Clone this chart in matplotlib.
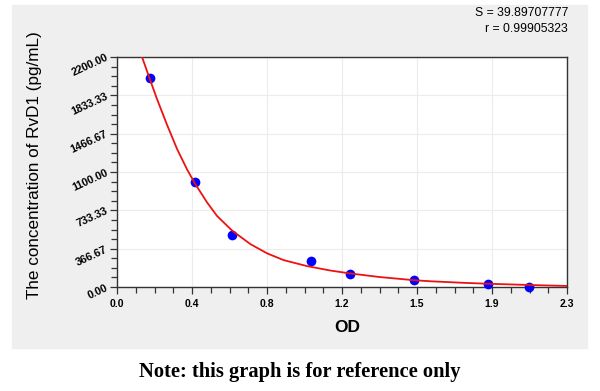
import matplotlib
matplotlib.use('Agg')
import matplotlib.pyplot as plt
from matplotlib.patches import Rectangle
from matplotlib.ticker import AutoMinorLocator
import numpy as np

# standard points (OD, concentration)
od = [0.167, 0.400, 0.588, 0.992, 1.19, 1.518, 1.897, 2.106]
conc = [2000, 1000, 500, 250, 125, 62.5, 31.25, 0]

# fitted curve
curve_od = [0.128, 0.167, 0.204, 0.256, 0.307, 0.358, 0.400, 0.460, 0.511, 0.588,
            0.682, 0.767, 0.852, 0.971, 1.089, 1.19, 1.344, 1.518, 1.6, 1.77,
            1.897, 2.11, 2.3]
curve_conc = [2200, 1993, 1800, 1550, 1320, 1125, 985, 810, 680, 540,
              410, 322, 257, 200, 158, 130, 95, 65, 55, 40,
              31, 19, 10]

xticks = [0, 2.3/6, 2*2.3/6, 3*2.3/6, 4*2.3/6, 5*2.3/6, 2.3]
xticklabels = ['0.0', '0.4', '0.8', '1.2', '1.5', '1.9', '2.3']
yticks = [0, 2200/6, 2*2200/6, 3*2200/6, 4*2200/6, 5*2200/6, 2200]
yticklabels = ['0.00', '366.67', '733.33', '1100.00', '1466.67', '1833.33', '2200.00']

W, H = 600, 391
fig = plt.figure(figsize=(6, 3.91), dpi=100)
fig.patches.append(Rectangle((12/W, 1-348/H), (587-12)/W, (348-5)/H,
                             transform=fig.transFigure, color='#efefef', zorder=-5))

ax = fig.add_axes([117/W, 1-287/H, 450/W, 230/H])
ax.set_zorder(2)
ax.set_facecolor('white')
ax.plot(curve_od, curve_conc, color='#ee1111', lw=1.3, zorder=4)
ax.plot(od, conc, 'o', color='#0000ff', ms=7, mec='none', zorder=3, clip_on=False)

ax.set_xlim(0, 2.3)
ax.set_ylim(0, 2200)
ax.set_xticks(xticks)
ax.set_xticklabels(xticklabels, fontsize=7.5, fontweight='bold', family='Liberation Sans')
ax.set_yticks(yticks)
ax.set_yticklabels(yticklabels, fontsize=7.8, fontweight='bold', family='Liberation Sans',
                   rotation=25, rotation_mode='anchor', ha='right', va='center')
ax.xaxis.set_minor_locator(AutoMinorLocator(4))
ax.yaxis.set_minor_locator(AutoMinorLocator(4))
ax.tick_params(which='major', length=5, width=0.9, color='#333333')
ax.tick_params(axis='y', which='major', pad=2)
ax.tick_params(which='minor', length=4, width=0.9, color='#333333')
ax.grid(True, which='major', color='#ececec', lw=0.8)
for s in ax.spines.values():
    s.set_color('#333333')
    s.set_linewidth(1.0)

fig.text(35/W, 1-165/H, 'The concentration of RvD1 (pg/mL)', rotation=90,
         ha='center', va='center', fontsize=12.3, family='Liberation Sans')
fig.text(347/W, 1-328/H, 'OD', ha='center', va='center', fontsize=12.5,
         fontweight='bold', family='Liberation Sans')
fig.text(568/W, 1-13/H, 'S = 39.89707777', ha='right', va='center', fontsize=8.8,
         family='Liberation Sans')
fig.text(568/W, 1-29/H, 'r = 0.99905323', ha='right', va='center', fontsize=8.8,
         family='Liberation Sans')
fig.text(300/W, 1-372/H, 'Note: this graph is for reference only', ha='center',
         va='center', fontsize=14.8, fontweight='bold', family='Liberation Serif')

fig.savefig('out.png', dpi=100)
